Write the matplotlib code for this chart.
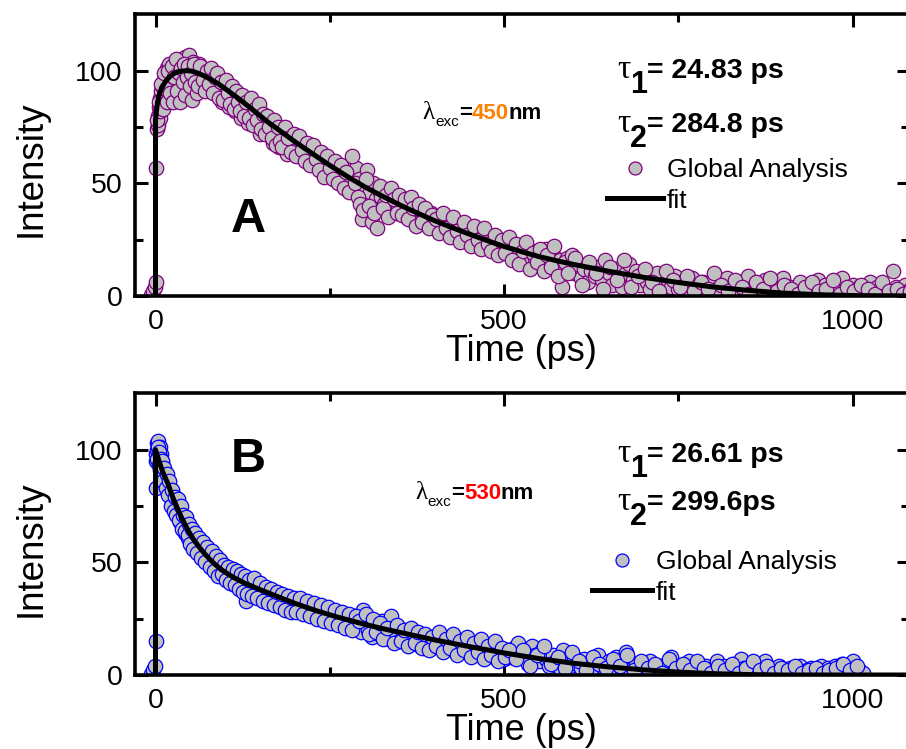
import matplotlib
matplotlib.use('Agg')
import matplotlib.pyplot as plt
import matplotlib.transforms as mtransforms

# ---------------- data ----------------
# Panel A (lambda_exc = 450 nm)
tA = [-6, -3, -1, 0, 1, 2, 3, 4, 5, 6, 7, 8, 9, 10, 11, 12, 13, 14, 15, 16, 17, 18, 19, 20,
      22, 24, 26, 28, 30, 32, 34, 36, 38, 40, 42, 44, 46, 48, 50, 52, 54, 56, 58, 60,
      63, 66, 69, 72, 75, 78, 81, 84, 87, 90, 93, 96, 99, 102, 105, 108, 111, 114, 117, 120,
      123, 126, 129, 132, 135, 138, 141, 144, 147, 150, 153, 156, 159, 162, 165, 168, 171, 174, 177, 180,
      184, 188, 192, 196, 200, 204, 208, 212, 216, 220, 224, 228, 232, 236, 240, 244, 248, 252, 256, 260,
      264, 268, 272, 276, 280, 284, 288, 292, 296, 300, 304,
      308, 310, 312, 316, 318, 320, 324, 328, 332, 336, 340, 344, 348, 352, 356, 360, 364, 368, 372, 376,
      380, 385, 390, 395, 400, 405, 410, 415, 420, 425, 430, 435, 440, 445, 450, 455, 460, 465, 470, 475,
      480, 485, 490, 495, 500,
      505, 510, 515, 520, 525, 530, 535, 540, 545, 550, 555, 560, 565, 570, 575, 580, 583, 585, 590, 595,
      600, 605, 610, 615, 620, 625, 630, 635, 640, 645, 650, 655, 660, 665, 670, 675, 680, 685, 690, 695,
      700, 705, 710, 715, 720, 725, 730, 735, 740, 745, 750, 755, 760, 765, 770, 775, 780, 785, 790, 795,
      800, 805, 810, 815, 820, 825, 830, 835, 840, 845, 850, 855, 860, 865, 870, 875, 880, 885, 890, 895,
      900, 905, 910, 915, 920, 925, 930, 935, 940, 945, 950, 955, 960, 965, 970, 975, 980, 985, 990, 995,
      1000, 1005, 1010, 1015, 1020, 1025, 1030, 1035, 1040, 1045, 1050,
      1058, 1062, 1066, 1070, 1075, 1080, 1085, 1090]
yA = [0.5, 2, 4, 6, 57, 74, 80, 76, 84, 88, 79, 91, 85, 93, 88, 96, 90, 98, 87, 101, 94, 97, 90, 103,
      95, 99, 92, 101, 96, 88, 100, 104, 97, 92, 106, 99, 95, 107, 101, 97, 104, 92, 100, 96,
      103, 97, 93, 99, 95, 91, 97, 93, 96, 95, 91, 86, 92, 88, 84, 90, 86, 82, 88, 83,
      79, 85, 81, 77, 82, 78, 80, 79, 76, 72, 78, 74, 79, 75, 71, 68, 73, 69, 66, 71,
      67, 63, 69, 64, 66, 70, 62, 64, 67, 59, 61, 64, 58, 60, 56, 58, 54, 59, 52, 55,
      51, 56, 49, 53, 58, 55, 57, 52, 34, 49, 56,
      46, 33, 50, 43, 30, 47, 44, 41, 46, 42, 39, 44, 40, 37, 42, 38, 35, 40, 36, 33,
      38, 35, 32, 37, 33, 30, 35, 31, 28, 33, 29, 26, 31, 27, 25, 29, 26, 23, 27, 24,
      21, 25, 22, 20, 24,
      21, 18, 22, 19, 17, 23, 16, 20, 17, 14, 19, 21, 15, 18, 13, 16, 4, 12, 17, 13,
      10, 14, 8, 12, 6, 11, 9, 13, 7, 16, 10, 5, 12, 8, 4, 10, 14, 7, 11, 5,
      9, 6, 3, 8, 10, 5, 2, 7, 4, 9, 3, 6, 1, 5, 8, 3, 1, 6, 4, 2,
      7, 3, 1, 5, 8, 2, 4, 1, 6, 3, 9, 2, 5, 1, 4, 7, 2, 3, 1, 5,
      8, 2, 4, 1, 3, 6, 2, 4, 1, 3, 7, 2, 5, 1, 3, 6, 2, 8, 3, 1,
      5, 2, 4, 1, 3, 6, 2, 4, 1, 3, 2,
      11, 4, 1, 3, 5, 2, 4, 1]
# second, interleaved set of panel-A points
tA_b = [2.5, 4.5, 6.5, 8.5, 10.5, 12.5, 14.5, 16.5, 18.5, 21, 23, 25, 27, 29, 31, 33, 35, 37, 39, 41,
        43, 45, 47, 49, 51, 53, 55, 57, 59,
        61.5, 64.5, 67.5, 70.5, 73.5, 76.5, 79.5, 82.5, 85.5, 88.5, 91.5, 94.5, 97.5, 100.5, 103.5,
        106.5, 109.5, 112.5, 115.5, 118.5, 121.5, 124.5, 127.5, 130.5, 133.5, 136.5, 139.5, 142.5,
        145.5, 148.5, 151.5, 154.5, 157.5, 160.5, 163.5, 166.5, 169.5, 172.5, 175.5, 178.5,
        182, 186, 190, 194, 198, 202, 206, 210, 214, 218, 222, 226, 230, 234, 238, 242, 246, 250,
        254, 258, 262, 266, 270, 274, 278, 282, 286, 290, 294, 298, 302, 306,
        314, 322, 326, 330, 334, 338, 342, 346, 350, 354, 358, 362, 366, 370, 374, 378, 382, 387,
        392, 397, 402, 407, 412, 417, 422, 427, 432, 437, 442, 447, 452, 457, 462, 467, 472, 477,
        482, 487, 492, 497, 502, 507, 512, 517, 522, 527, 532, 537, 542, 547, 552, 557, 562, 567,
        572, 577, 587, 592, 597,
        602, 612, 622, 632, 642, 652, 662, 672, 682, 692, 702, 712, 722, 732, 742, 752, 762, 772,
        782, 792, 802, 812, 822, 832, 842, 852, 862, 872, 882, 892, 902, 912, 922, 932, 942, 952,
        962, 972, 982, 992, 1002, 1012, 1022, 1032, 1042, 1052, 1064, 1072, 1082]
yA_b = [78, 86, 82, 94, 83, 99, 92, 86, 100, 90, 102, 86, 97, 105, 91, 99, 86, 101, 95, 103,
        89, 97, 102, 93, 99, 87, 103, 95, 90,
        93, 102, 96, 91, 100, 94, 101, 90, 97, 99, 88, 95, 87, 96, 90,
        85, 93, 83, 91, 86, 82, 89, 80, 86, 79, 88, 76, 83,
        78, 85, 74, 81, 72, 80, 75, 70, 78, 67, 75, 69,
        66, 75, 70, 64, 72, 62, 71, 65, 60, 68, 58, 67, 61, 56, 64, 53, 62, 57,
        52, 60, 50, 58, 48, 55, 46, 62, 50, 44, 41, 38, 52, 40,
        37, 49, 39, 45, 35, 48, 43, 37, 45, 36, 43, 34, 44, 39, 31, 41, 33, 39,
        30, 36, 34, 28, 37, 30, 26, 35, 29, 24, 33, 27, 22, 31, 25, 21, 30, 23,
        20, 27, 18, 25, 19, 26, 16, 23, 14, 20, 24, 12, 19, 15, 21, 11, 18, 13,
        22, 9, 15, 10, 18,
        17, 5, 15, 10, 3, 13, 7, 16, 4, 9, 12, 6, 2, 11, 7, 4, 9, 2,
        6, 3, 10, 5, 2, 7, 4, 1, 6, 3, 8, 2, 5, 3, 1, 4, 6, 2,
        3, 7, 1, 4, 2, 5, 3, 1, 6, 2, 3, 1, 2]
fit_tA = [0, 0.01, 1.5, 3, 5, 8, 11, 15, 20, 25, 30, 35, 45, 52, 60, 70, 80, 90, 100, 115, 130,
          145, 160, 180, 200, 225, 250, 275, 300, 325, 350, 375, 400, 425, 450, 475, 500, 525,
          550, 575, 600, 650, 700, 750, 800, 850, 900, 950, 1000, 1100]
fit_yA = [0, 78, 82.5, 86, 89, 91.5, 93.5, 95.5, 97.2, 98.5, 99.3, 99.7, 100, 99.8, 99, 97.7, 96,
          94.2, 92, 88.6, 85, 81.3, 77.5, 73, 68.5, 63.2, 58, 53.1, 48.5, 44.4, 40.5, 36.9, 33.5,
          30.4, 27.5, 24.7, 22, 19.7, 17.5, 15.7, 14, 11, 8.3, 6, 4, 2.5, 1.3, 0.6, 0.2, 0]

# Panel B (lambda_exc = 530 nm)
tB = [-6, -3, -1, 0, 0.5, 1, 2, 3, 4, 5, 6, 7, 8, 9, 10, 11, 12, 13, 14, 15,
      17, 19, 21, 23, 25, 27, 29, 31, 33, 35, 37, 39, 41, 43, 45, 47, 49, 51, 53, 55,
      58, 61, 64, 67, 70, 73, 76, 79, 82, 85, 88, 91, 94, 97, 100, 103, 106, 109, 112, 115,
      118, 121, 124, 127, 130, 133, 136,
      140, 144, 148, 152, 156, 160, 164, 168, 172, 176, 180, 184, 188, 192, 196, 200,
      205, 210, 215, 220, 225, 230, 235, 240, 245, 250, 255, 260, 265, 270, 275, 280, 285, 290, 295,
      298, 300, 305, 310, 315, 320, 325, 330, 335, 338, 340, 345, 350, 355, 360, 365, 370, 375, 380,
      385, 390, 395, 400,
      405, 410, 415, 420, 425, 430, 435, 440, 445, 450, 455, 460, 465, 470, 475, 480, 485, 490, 495, 500,
      505, 510,
      515, 520, 525, 530, 535, 540, 545, 550, 555, 560, 565, 570, 575, 580, 585, 590, 595, 600, 605, 610,
      615, 620, 625, 630, 635, 640, 645, 650, 655, 660, 665, 670, 675, 680, 685, 690, 695, 700, 705, 710,
      715, 720, 725, 730, 735, 740, 745, 750, 755, 760, 765, 770, 775, 780, 785, 790, 795, 800, 805, 810,
      815, 820, 825, 830, 835, 840, 845, 850, 855, 860, 865, 870, 875, 880, 885, 890, 895, 900, 905, 910,
      915, 920, 925, 930, 935, 940, 945, 950, 955, 960, 965, 970, 975, 980, 985, 990, 995, 1000, 1005, 1010,
      1015]
yB = [0.5, 2, 4, 15, 83, 98, 103, 100, 104, 97, 101, 95, 98, 92, 94, 89, 91, 86, 88, 84,
      87, 81, 83, 77, 80, 74, 76, 71, 74, 68, 72, 66, 69, 63, 66, 61, 64, 59, 62, 57,
      60, 55, 58, 53, 56, 51, 54, 49, 52, 47, 50, 45, 48, 44, 47, 43, 46, 41, 44, 40,
      43, 39, 42, 38, 33, 41, 37,
      40, 36, 39, 35, 38, 34, 37, 33, 36, 32, 35, 31, 34, 30, 33, 29,
      32, 28, 31, 27, 30, 26, 29, 25, 28, 24, 27, 23, 26, 22, 25, 21, 26, 22, 19,
      29, 24, 20, 17, 22, 18, 24, 19, 16, 26, 21, 17, 15, 20, 16, 14, 19, 15, 13,
      17, 14, 12, 16,
      16, 13, 17, 14, 12, 16, 13, 11, 15, 12, 10, 14, 11, 9, 13, 10, 8, 12, 9, 7,
      11, 8,
      12, 14, 8, 10, 5, 13, 9, 6, 11, 7, 4, 9, 6, 3, 11, 7, 4, 8, 5, 3,
      7, 4, 2, 6, 9, 4, 2, 6, 3, 8, 5, 2, 10, 6, 3, 5, 2, 4, 1.5, 6,
      3, 1, 4, 2, 5, 8, 3, 1, 4, 2, 6, 3, 1, 5, 2, 4, 1, 3, 6, 2,
      4, 1, 3, 5, 2, 7, 3, 1, 4, 2, 5, 3, 6, 1, 3, 2, 4, 1, 2, 3,
      1, 2, 4, 1, 2, 3, 1, 2, 4, 1, 3, 2, 4, 3, 5, 3, 4, 6, 3, 2,
      1]
# second, interleaved set of panel-B points
tB_b = [0.2, 1.5, 2.5, 3.5, 4.5, 5.5, 6.5, 7.5, 8.5, 9.5, 10.5, 12.5, 14.5, 16, 18, 20, 22, 24, 26, 28,
        30, 32, 34, 36, 38, 40, 42, 44, 46, 48, 50, 52, 54, 56,
        59.5, 62.5, 65.5, 68.5, 71.5, 74.5, 77.5, 80.5, 83.5, 86.5, 89.5, 92.5, 95.5, 98.5, 101.5,
        104.5, 107.5, 110.5, 113.5, 116.5, 119.5, 122.5, 125.5, 128.5, 131.5, 134.5, 138, 142, 146,
        150, 154, 158, 162, 166, 170, 174, 178, 182, 186, 190, 194, 198,
        202, 207, 212, 217, 222, 227, 232, 237, 242, 247, 252, 257, 262, 267, 272, 277, 282, 287, 292,
        302, 307, 312, 317, 322, 327, 332,
        342, 347, 352, 357, 362, 367, 372, 377, 382, 387, 392, 397, 402, 407, 412, 417, 422, 427,
        432, 437, 442, 447, 452, 457, 462, 467, 472, 477, 482, 487, 492, 497, 502, 507,
        517, 527, 537, 547, 557, 567, 577, 587, 597, 607, 617, 627, 637, 647, 657, 667, 677, 687,
        697, 707, 717, 727, 737, 747, 757, 767, 777, 787, 797, 807, 817, 827, 837, 847, 857, 867,
        877, 887, 897, 907, 917, 927, 937, 947, 957, 967, 977, 987, 997, 1007]
yB_b = [95, 100, 96, 101, 93, 99, 91, 96, 88, 95, 86, 92, 83, 89, 80, 86, 75, 82, 73, 79,
        71, 78, 69, 75, 65, 71, 64, 70, 62, 67, 58, 65, 56, 63,
        54, 61, 52, 59, 50, 57, 48, 55, 46, 53, 44, 51, 45, 49, 42,
        48, 41, 47, 40, 46, 38, 45, 37, 44, 36, 42, 35, 43, 34,
        41, 33, 39, 32, 38, 31, 37, 30, 36, 29, 35, 28, 34,
        28, 34, 27, 33, 26, 32, 25, 31, 24, 30, 23, 29, 22, 28, 21, 27, 20, 26, 24,
        27, 18, 25, 19, 23, 16, 21,
        14, 22, 15, 20, 13, 21, 14, 19, 12, 18, 11, 17, 13, 19, 10, 16, 12, 18,
        9, 15, 11, 17, 8, 14, 10, 16, 7, 13, 9, 15, 6, 12, 8, 11,
        7, 11, 4, 9, 13, 5, 8, 3, 10, 6, 2, 8, 5, 3, 7, 4, 9, 2,
        6, 3, 5, 1, 7, 3, 5, 2, 6, 3, 1, 4, 2, 5, 1, 3, 6, 2,
        4, 1, 3, 2, 4, 1, 2, 3, 1, 2, 3, 5, 2, 4]
fit_tB = [0, 0.01, 2, 5, 10, 14, 18, 24, 30, 36, 42, 48, 55, 62, 70, 78, 85, 95, 105, 115, 127,
          140, 150, 163, 180, 200, 230, 260, 300, 330, 357, 400, 454, 500, 550, 600, 650, 700,
          750, 800, 850, 900, 1100]
fit_yB = [0, 100, 98, 95, 90.5, 87.5, 84.8, 79.5, 75, 70.8, 67, 63.5, 60, 57, 54, 51.3, 49.2,
          46.7, 44.6, 42.8, 40.9, 39.2, 37.9, 36.3, 34.2, 31.8, 28.6, 25.8, 22.5, 20.3, 18.5,
          15.6, 12.4, 9.8, 7.3, 5.2, 3.6, 2.3, 1.3, 0.6, 0.2, 0, 0]

xticks = [0, 500, 1000]
yticks = [0, 50, 100]
tau_A = ["= 24.83 ps", "= 284.8 ps"]
tau_B = ["= 26.61 ps", "= 299.6ps"]

# ---------------- fonts / layout ----------------
SANS = 'Liberation Sans'
SERIF = 'Liberation Serif'

W, H = 906, 749
fig = plt.figure(figsize=(W / 100, H / 100), dpi=100)
fig.patch.set_facecolor('white')

left_px, right_px = 135, W * 1.003
ax_w = (right_px - left_px) / W
axA = fig.add_axes([left_px / W, 1 - 296 / H, ax_w, 282 / H])
axB = fig.add_axes([left_px / W, 1 - 675 / H, ax_w, 282 / H])

px_per_ps = 0.697
x0_px = 155.5
xlim = ((left_px - x0_px) / px_per_ps, (right_px - x0_px) / px_per_ps)
ylim = (0, 282 / 2.253)
AXW_PX = right_px - left_px


def style(ax, ylab_y):
    ax.set_xlim(*xlim)
    ax.set_ylim(*ylim)
    ax.set_xticks(xticks)
    ax.set_xticks([250, 750], minor=True)
    ax.set_yticks(yticks)
    ax.set_yticks([25, 75], minor=True)
    ax.tick_params(which='both', direction='in', top=True, right=True, width=2.2,
                   labelsize=20.5, pad=9, labelfontfamily=SANS)
    ax.tick_params(which='major', length=9)
    ax.tick_params(which='minor', length=5.5)
    for s in ax.spines.values():
        s.set_linewidth(2.6)
    ax.set_xlabel('Time (ps)', fontsize=26, family=SANS)
    ax.xaxis.set_label_coords(0.5, -0.232)
    ax.xaxis.label.set_va('baseline')
    ax.set_ylabel('Intensity', fontsize=26.5, family=SANS)
    ax.yaxis.set_label_coords(-0.134, ylab_y)
    ax.yaxis.label.set_va('center')


renderer = fig.canvas.get_renderer()


def chain(ax, x, y, pieces):
    dx = 0.0
    for text, kw, dy in pieces:
        tr = mtransforms.offset_copy(ax.transAxes, fig=fig, x=dx, y=dy, units='dots')
        t = ax.text(x, y, text, transform=tr, ha='left', va='baseline', **kw)
        dx += t.get_window_extent(renderer).width


def panel(ax, t, y, ft, fy, edge, letter, letter_y, lam_x, lam_y, lam_val, lam_col,
          taus, tau_y1, tau_y2, leg_x, leg_y, hlen, ylab_y):
    style(ax, ylab_y)
    ax.plot(t, y, 'o', ms=10.4, mfc='#c0c0c0', mec=edge, mew=0.9, ls='none',
            label='Global Analysis', zorder=2)
    ax.plot(ft, fy, color='black', lw=3.6, label='fit', zorder=3)
    ax.text(0.146, letter_y, letter, transform=ax.transAxes, ha='center', va='baseline',
            fontsize=35, fontweight='bold', family=SANS)
    bold = dict(fontsize=16, fontweight='bold', family=SANS)
    chain(ax, lam_x, lam_y, [
        ('λ', dict(fontsize=18, family=SERIF), 0),
        ('exc', dict(fontsize=11, family=SANS), -6.5),
        ('=', bold, 0),
        (lam_val, dict(bold, color=lam_col), 0),
        ('nm', bold, 0),
    ])
    tb = dict(fontsize=20.5, fontweight='bold', family=SANS)
    for i, (txt, yy) in enumerate(zip(taus, [tau_y1, tau_y2])):
        chain(ax, 0.623, yy, [
            ('τ', dict(fontsize=24, family=SERIF), 0),
            (str(i + 1), dict(tb, fontsize=22), -15),
            (txt, tb, 0),
        ])
    ax.legend(loc='upper left', bbox_to_anchor=(leg_x, leg_y), frameon=False,
              prop=dict(family=SANS, size=19), handlelength=hlen, handletextpad=0.15,
              labelspacing=0.25, borderpad=0, borderaxespad=0, numpoints=1, markerscale=0.9)


panel(axA, tA + tA_b, yA + yA_b, fit_tA, fit_yA, '#800080', 'A', 0.227, 0.372, 0.6266, '450',
      '#ff8000', tau_A, 0.772, 0.5826, (607 - left_px) / AXW_PX, (296 - 158) / 282, 2.12, 0.452)
panel(axB, tB + tB_b, yB + yB_b, fit_tB, fit_yB, '#0000ff', 'B', 0.72, 0.362, 0.623, '530',
      '#ff0000', tau_B, 0.756, 0.585, (592 - left_px) / AXW_PX, (675 - 550) / 282, 2.27, 0.449)

fig.savefig('out.png', dpi=100)
